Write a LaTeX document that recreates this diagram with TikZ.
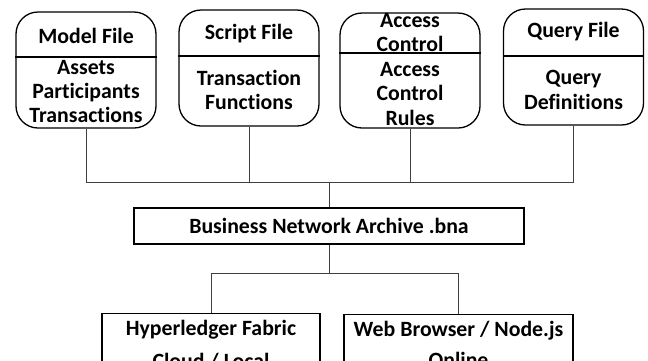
\documentclass[tikz,border=0pt]{standalone}
\usepackage{fontspec}
\setmainfont{Carlito}[Ligatures=NoCommon]
\begin{document}
\begin{tikzpicture}[x=1pt,y=-1pt,
  filebox/.style={draw, line width=1.3pt, rounded corners=22pt,
    minimum width=140pt, inner sep=0pt},
  txt/.style={font=\fontsize{21.8}{24.3}\selectfont\bfseries, align=center, inner sep=0pt},
  plainbox/.style={draw, line width=1.3pt, inner xsep=0pt,
    font=\fontsize{21.8}{24.3}\selectfont\bfseries, align=center},
  divider/.style={line width=1.1pt},
  link/.style={line width=0.9pt, draw=black!75}]
\useasboundingbox (0,0) rectangle (648,360);
\clip (0,0) rectangle (648,360);

% file boxes of the business network definition
\node[filebox, minimum height=116pt] (model)  at (86,70)    {};
\node[filebox, minimum height=116pt] (script) at (249,68)   {};
\node[filebox, minimum height=115pt] (access) at (410,70.5) {};
\node[filebox, minimum height=116pt] (query)  at (573.5,67) {};

\draw[divider] (model.west |- 0,57)  -- (model.east |- 0,57);
\draw[divider] (script.west |- 0,56) -- (script.east |- 0,56);
\draw[divider] (access.west |- 0,53) -- (access.east |- 0,53);
\draw[divider] (query.west |- 0,56)  -- (query.east |- 0,56);

\node[txt] (modelT)  at (86,35.5)   {Model File};
\node[txt] (scriptT) at (249,33.5)  {Script File};
\node[txt] (accessT) at (410,32.5)  {Access\\Control};
\node[txt] (queryT)  at (573.5,32)  {Query File};

\node[txt] (modelB)  at (86,91.5)   {Assets\\Participants\\Transactions};
\node[txt] (scriptB) at (249,90)    {Transaction\\Functions};
\node[txt] (accessB) at (410,94)    {Access\\Control\\Rules};
\node[txt] (queryB)  at (573.5,90)  {Query\\Definitions};

% archive and deployment targets
\node[plainbox, minimum width=390pt, minimum height=36pt, inner ysep=0pt] (bna) at (329,226)
  {Business Network Archive .bna};
\node[plainbox, minimum width=218pt, anchor=north, inner ysep=7pt] (fabric) at (211,313)
  {Hyperledger Fabric\\[8pt]Cloud / Local};
\node[plainbox, minimum width=229pt, anchor=north, inner ysep=7pt] (web) at (458.5,314)
  {Web Browser / Node.js\\[6pt]Online};

\coordinate (bus) at (329,182);
\coordinate (split) at (329,273);

% connectors
\draw[link] (model.south) |- (bus);
\draw[link] (query.south) |- (bus);
\draw[link] (script.south) -- (script.south |- bus);
\draw[link] (access.south) -- (access.south |- bus);
\draw[link] (bus) -- (bna.north);
\draw[link] (bna.south) -- (split);
\draw[link] (split) -| (fabric.north);
\draw[link] (split) -| (web.north);
\end{tikzpicture}
\end{document}
